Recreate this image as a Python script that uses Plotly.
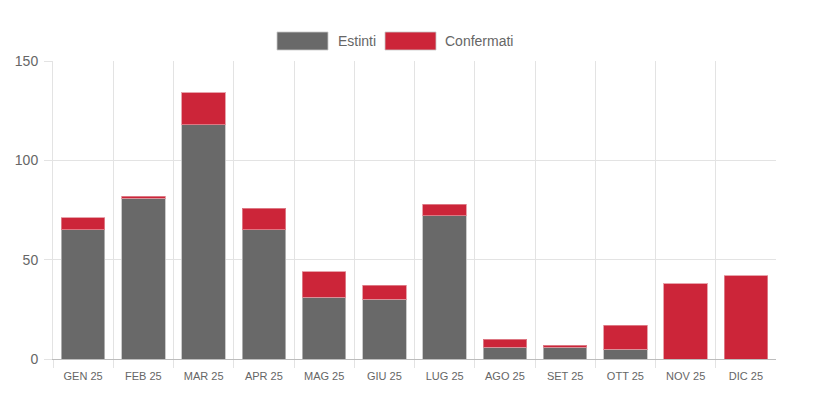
import plotly.graph_objects as go

months = ["GEN 25", "FEB 25", "MAR 25", "APR 25", "MAG 25", "GIU 25",
          "LUG 25", "AGO 25", "SET 25", "OTT 25", "NOV 25", "DIC 25"]
estinti = [65, 81, 118, 65, 31, 30, 72, 6, 6, 5, 0, 0]
confermati = [6, 1, 16, 11, 13, 7, 6, 4, 1, 12, 38, 42]

GRAY = "#696969"
RED = "#CC2539"
FONT = "Liberation Sans, Arial, sans-serif"

fig = go.Figure()
fig.add_trace(go.Bar(x=months, y=estinti, name="Estinti",
                     marker=dict(color=GRAY, line=dict(color="rgba(190,190,190,0.8)", width=1)),
                     showlegend=False))
fig.add_trace(go.Bar(x=months, y=confermati, name="Confermati",
                     marker=dict(color=RED, line=dict(color="rgba(225,140,150,0.8)", width=1)),
                     showlegend=False))

# Legend drawn as boxes + labels (positions relative to plot area 53..776 x, 61..359 y)
legend_items = [("Estinti", GRAY, 277, 328, 336), ("Confermati", RED, 385, 436, 443)]
for name, col, x0, x1, tx in legend_items:
    fig.add_shape(type="rect", xref="paper", yref="paper",
                  x0=(x0 - 53) / 723, x1=(x1 - 53) / 723,
                  y0=(359 - 50) / 298, y1=(359 - 32) / 298,
                  fillcolor=col, line=dict(color="rgba(200,200,200,0.8)", width=1))
    fig.add_annotation(text=name, xref="paper", yref="paper",
                       x=(tx - 53) / 723, y=(359 - 41) / 298,
                       xanchor="left", yanchor="middle", showarrow=False,
                       font=dict(family=FONT, size=14, color="#666666"))

fig.update_layout(
    barmode="stack",
    bargap=0.28,
    width=815, height=399,
    margin=dict(l=45, r=47, t=53, b=48, autoexpand=False),
    paper_bgcolor="white", plot_bgcolor="white",
    font=dict(family=FONT, color="#666666"),
)
fig.update_xaxes(
    range=[-0.5, 11.499], automargin=False,
    tickson="boundaries", ticks="outside", ticklen=8, tickcolor="#e3e3e3",
    showgrid=True, gridcolor="#e3e3e3", gridwidth=1,
    showline=True, linecolor="#bdbdbd", linewidth=1,
    ticklabelstandoff=7,
    tickfont=dict(size=11, color="#666666"),
)
fig.update_yaxes(
    range=[0, 150], tickvals=[0, 50, 100, 150], automargin=False,
    ticks="outside", ticklen=8, tickcolor="#e3e3e3",
    showgrid=True, gridcolor="#e3e3e3", gridwidth=1,
    zeroline=False,
    showline=True, linecolor="#e3e3e3", linewidth=1,
    ticklabelstandoff=3,
    tickfont=dict(size=14, color="#666666"),
)

fig.write_html("out.html")
